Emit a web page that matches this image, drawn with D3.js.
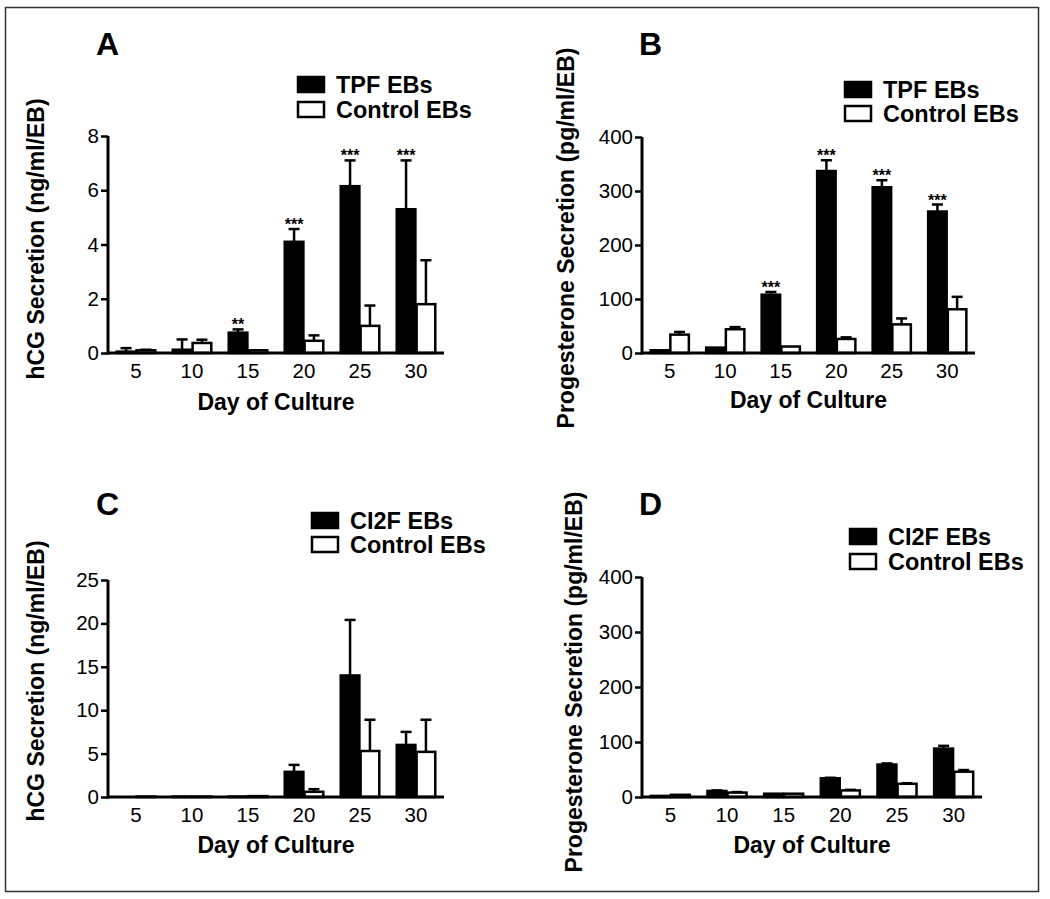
<!DOCTYPE html>
<html>
<head>
<meta charset="utf-8">
<script src="https://cdn.jsdelivr.net/npm/d3@7"></script>
<style>
  html, body { margin: 0; padding: 0; background: #fff; }
  svg { display: block; }
  text { font-family: "Liberation Sans", Arial, Helvetica, sans-serif; fill: #000; }
</style>
</head>
<body>
<svg id="chart" width="1050" height="899"></svg>
<script>
// ---------- DATA ----------
const days = ["5", "10", "15", "20", "25", "30"];

// Panel A: hCG (ng/ml/EB), TPF vs Control
const aTicks = [0, 2, 4, 6, 8];
const aTPF = [0.05, 0.12, 0.75, 4.1, 6.15, 5.3];
const aTPFErr = [0.13, 0.38, 0.12, 0.47, 0.95, 1.8];
const aCtrl = [0.1, 0.37, 0.1, 0.45, 1.0, 1.8];
const aCtrlErr = [0.02, 0.12, 0.0, 0.2, 0.75, 1.62];
const aStars = ["", "", "**", "***", "***", "***"];

// Panel B: Progesterone (pg/ml/EB), TPF vs Control
const bTicks = [0, 100, 200, 300, 400];
const bTPF = [5, 10, 108, 337, 307, 262];
const bTPFErr = [0, 0, 5, 20, 13, 13];
const bCtrl = [34, 44, 12, 26, 53, 81];
const bCtrlErr = [5, 4, 0, 3, 11, 23];
const bStars = ["", "", "***", "***", "***", "***"];

// Panel C: hCG (ng/ml/EB), CI2F vs Control
const cTicks = [0, 5, 10, 15, 20, 25];
const cCI2F = [0.0, 0.05, 0.05, 2.9, 14.0, 6.0];
const cCI2FErr = [0, 0, 0, 0.8, 6.4, 1.5];
const cCtrl = [0.05, 0.05, 0.1, 0.6, 5.3, 5.2];
const cCtrlErr = [0, 0, 0, 0.3, 3.6, 3.7];

// Panel D: Progesterone (pg/ml/EB), CI2F vs Control
const dTicks = [0, 100, 200, 300, 400];
const dCI2F = [2, 11, 6, 34, 59, 88];
const dCI2FErr = [0, 1, 0, 1, 2, 5];
const dCtrl = [4, 8, 6, 12, 24, 46];
const dCtrlErr = [0, 1, 0, 1, 1, 3];

// ---------- DRAW ----------
const svg = d3.select("#chart");

svg.append("rect")
  .attr("x", 5.5).attr("y", 7.5).attr("width", 1033).attr("height", 884)
  .attr("fill", "none").attr("stroke", "#333").attr("stroke-width", 1.5);

function panel(cfg) {
  const g = svg.append("g");
  const x = d3.scaleBand().domain(days).range([cfg.x0, cfg.x1])
    .paddingInner(0.29).paddingOuter(0.145);
  const y = d3.scaleLinear().domain([0, cfg.ticks[cfg.ticks.length - 1]]).range([cfg.y0, cfg.y1]);
  const bw = x.bandwidth() / 2;

  const series = [
    { vals: cfg.s1, errs: cfg.e1, fill: "#000", off: 0 },
    { vals: cfg.s2, errs: cfg.e2, fill: "#fff", off: bw }
  ];

  series.forEach(s => {
    // error bars (upper only)
    days.forEach((d, i) => {
      const cx = x(d) + s.off + bw / 2;
      const top = y(s.vals[i] + s.errs[i]);
      if (s.errs[i] > 0) {
        g.append("line").attr("x1", cx).attr("x2", cx)
          .attr("y1", y(s.vals[i])).attr("y2", top)
          .attr("stroke", "#000").attr("stroke-width", 2.5);
        g.append("line").attr("x1", cx - 5.5).attr("x2", cx + 5.5)
          .attr("y1", top).attr("y2", top)
          .attr("stroke", "#000").attr("stroke-width", 2.5);
      }
    });
    g.selectAll(null).data(s.vals).enter().append("rect")
      .attr("x", (v, i) => x(days[i]) + s.off + 0.6)
      .attr("y", v => y(v))
      .attr("width", bw - 1.2)
      .attr("height", v => Math.max(0, y(0) - y(v)))
      .attr("fill", s.fill).attr("stroke", "#000").attr("stroke-width", 2.5);
  });

  // stars
  if (cfg.stars) {
    days.forEach((d, i) => {
      if (!cfg.stars[i]) return;
      const cx = x(d) + bw / 2;
      g.append("text").attr("x", cx).attr("y", y(cfg.s1[i] + cfg.e1[i]) + 1)
        .attr("text-anchor", "middle").attr("font-size", 16).attr("font-weight", "bold")
        .text(cfg.stars[i]);
    });
  }

  // y axis
  const ya = d3.axisLeft(y).tickValues(cfg.ticks).tickSize(7).tickPadding(2).tickFormat(d3.format("d"));
  const yg = g.append("g").attr("transform", `translate(${cfg.x0},0)`).call(ya);
  yg.select(".domain").attr("stroke", "#000").attr("stroke-width", 3)
    .attr("d", `M0,${cfg.y0 + 1.5}V${cfg.y1}`);
  yg.selectAll(".tick line").attr("stroke", "#000").attr("stroke-width", 2.5);
  yg.selectAll(".tick text").attr("font-size", 20.5).attr("fill", "#000")
    .attr("font-family", "Liberation Sans, Arial, sans-serif");

  // x axis
  const xa = d3.axisBottom(x).tickSize(0).tickPadding(10);
  const xg = g.append("g").attr("transform", `translate(0,${cfg.y0})`).call(xa);
  xg.select(".domain").attr("stroke", "#000").attr("stroke-width", 3)
    .attr("d", `M${cfg.x0},0H${cfg.x1}`);
  xg.selectAll(".tick text").attr("font-size", 20.5).attr("fill", "#000")
    .attr("font-family", "Liberation Sans, Arial, sans-serif");

  // titles
  g.append("text").attr("x", (cfg.x0 + cfg.x1) / 2).attr("y", cfg.xTitleY)
    .attr("text-anchor", "middle").attr("font-size", 23).attr("font-weight", "bold")
    .text("Day of Culture");
  g.append("text").attr("transform", `translate(${cfg.yTitleX},${cfg.yTitleY}) rotate(-90)`)
    .attr("text-anchor", "middle").attr("font-size", 23).attr("font-weight", "bold")
    .text(cfg.yTitle);
  g.append("text").attr("x", cfg.labX).attr("y", cfg.labY)
    .attr("font-size", 32).attr("font-weight", "bold").text(cfg.label);

  // legend
  const names = [cfg.n1, "Control EBs"];
  const fills = ["#000", "#fff"];
  names.forEach((n, i) => {
    const ly = cfg.legY[i];
    g.append("rect").attr("x", cfg.legX + 1).attr("y", ly - 16).attr("width", 26).attr("height", 15)
      .attr("fill", fills[i]).attr("stroke", "#000").attr("stroke-width", 2.5);
    g.append("text").attr("x", cfg.legX + 39).attr("y", ly)
      .attr("font-size", 23.5).attr("font-weight", "bold").text(n);
  });
}

panel({ x0: 108, x1: 444, y0: 353, y1: 136, ticks: aTicks,
  s1: aTPF, e1: aTPFErr, s2: aCtrl, e2: aCtrlErr, stars: aStars,
  xTitleY: 410, yTitleX: 44, yTitleY: 239, yTitle: "hCG Secretion (ng/ml/EB)",
  label: "A", labX: 96, labY: 55, n1: "TPF EBs", legX: 297, legY: [93, 118] });

panel({ x0: 642, x1: 975, y0: 353, y1: 137, ticks: bTicks,
  s1: bTPF, e1: bTPFErr, s2: bCtrl, e2: bCtrlErr, stars: bStars,
  xTitleY: 408, yTitleX: 574, yTitleY: 238, yTitle: "Progesterone Secretion (pg/ml/EB)",
  label: "B", labX: 639, labY: 55, n1: "TPF EBs", legX: 844, legY: [98, 122] });

panel({ x0: 108, x1: 444, y0: 797, y1: 580, ticks: cTicks,
  s1: cCI2F, e1: cCI2FErr, s2: cCtrl, e2: cCtrlErr, stars: null,
  xTitleY: 853, yTitleX: 44, yTitleY: 681, yTitle: "hCG Secretion (ng/ml/EB)",
  label: "C", labX: 96, labY: 515, n1: "CI2F EBs", legX: 311, legY: [529, 553] });

panel({ x0: 642, x1: 982, y0: 797, y1: 577, ticks: dTicks,
  s1: dCI2F, e1: dCI2FErr, s2: dCtrl, e2: dCtrlErr, stars: null,
  xTitleY: 853, yTitleX: 582, yTitleY: 682, yTitle: "Progesterone Secretion (pg/ml/EB)",
  label: "D", labX: 639, labY: 515, n1: "CI2F EBs", legX: 849, legY: [545, 570] });
</script>
</body>
</html>
